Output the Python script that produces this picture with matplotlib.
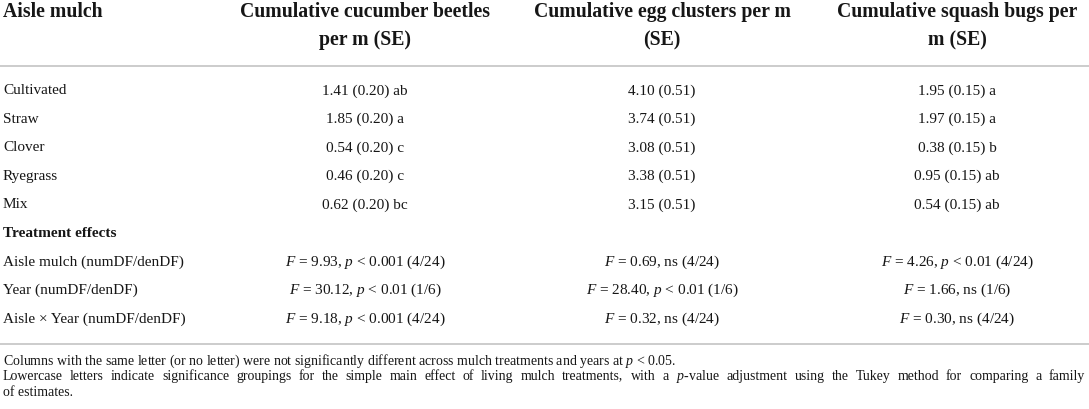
import matplotlib
matplotlib.use("Agg")
import matplotlib.pyplot as plt

# ======================
# DONNÉES
# ======================

mulches = ["Cultivated", "Straw", "Clover", "Ryegrass", "Mix"]

beetles = [1.41, 1.85, 0.54, 0.46, 0.62]
beetles_se = [0.20, 0.20, 0.20, 0.20, 0.20]
beetles_letters = ["ab", "a", "c", "c", "bc"]

eggs = [4.10, 3.74, 3.08, 3.38, 3.15]
eggs_se = [0.51, 0.51, 0.51, 0.51, 0.51]
eggs_letters = ["", "", "", "", ""]

bugs = [1.95, 1.97, 0.38, 0.95, 0.54]
bugs_se = [0.15, 0.15, 0.15, 0.15, 0.15]
bugs_letters = ["a", "a", "b", "ab", "ab"]

effects = ["Aisle mulch (numDF/denDF)", "Year (numDF/denDF)",
           "Aisle \u00d7 Year (numDF/denDF)"]
effect_df = ["4/24", "1/6", "4/24"]
beetles_F = [9.93, 30.12, 9.18]
beetles_p = ["< 0.001", "< 0.01", "< 0.001"]
eggs_F = [0.69, 28.40, 0.32]
eggs_p = ["ns", "< 0.01", "ns"]
bugs_F = [4.26, 1.66, 0.30]
bugs_p = ["< 0.01", "ns", "ns"]

headers = ["Aisle mulch",
           "Cumulative cucumber beetles\nper m (SE)",
           "Cumulative egg clusters per m\n(SE)",
           "Cumulative squash bugs per\nm (SE)"]

note1 = "Columns with the same letter (or no letter) were not significantly different across mulch treatments and years at $p$ < 0.05."
note2 = ("Lowercase letters indicate significance groupings for the simple main effect of living mulch "
         "treatments, with a $p$-value adjustment using the Tukey method for comparing a family")
note3 = "of estimates."

# ======================
# MISE EN PAGE
# ======================

W, H = 1089, 410
col_x = [3, 365, 662, 957]
row0 = 91
row_step = 28.5
note_base = [364.5, 380.5, 396.5]   # lignes de base des notes
note_right = 1085
txt = "#161616"
rule = "#c8c8c8"

plt.rcParams['font.family'] = ['Liberation Serif', 'DejaVu Serif']
plt.rcParams['mathtext.fontset'] = 'custom'
plt.rcParams['mathtext.rm'] = 'Liberation Serif'
plt.rcParams['mathtext.it'] = 'Liberation Serif:italic'

fig = plt.figure(figsize=(W / 100, H / 100), dpi=100)
ax = fig.add_axes([0, 0, 1, 1])
ax.set_xlim(0, W)
ax.set_ylim(H, 0)
ax.axis('off')

body = 11
head = 14.2
small = 10

# en-têtes
ax.text(col_x[0], 12, headers[0], ha='left', va='center', fontsize=head,
        fontweight='bold', color=txt)
for j in range(1, 4):
    ax.text(col_x[j], 26, headers[j], ha='center', va='center', fontsize=head,
            fontweight='bold', color=txt, linespacing=1.55, multialignment='center')

ax.plot([0, W], [67, 67], color=rule, lw=1.3, solid_capstyle='butt')


def cell(v, se, let):
    s = f"{v:.2f} ({se:.2f})"
    if let:
        s += " " + let
    return s


for i, name in enumerate(mulches):
    y = row0 + i * row_step
    ax.text(col_x[0], y, name, ha='left', va='center', fontsize=body, color=txt)
    ax.text(col_x[1], y, cell(beetles[i], beetles_se[i], beetles_letters[i]),
            ha='center', va='center', fontsize=body, color=txt)
    ax.text(col_x[2], y, cell(eggs[i], eggs_se[i], eggs_letters[i]),
            ha='center', va='center', fontsize=body, color=txt)
    ax.text(col_x[3], y, cell(bugs[i], bugs_se[i], bugs_letters[i]),
            ha='center', va='center', fontsize=body, color=txt)

y = row0 + len(mulches) * row_step
ax.text(col_x[0], y, "Treatment effects", ha='left', va='center', fontsize=body,
        fontweight='bold', color=txt)


def stat(f, p, df):
    if p == "ns":
        return f"$F$ = {f:.2f}, ns ({df})"
    return f"$F$ = {f:.2f}, $p$ {p} ({df})"


for i, name in enumerate(effects):
    y = row0 + (len(mulches) + 1 + i) * row_step
    ax.text(col_x[0], y, name, ha='left', va='center', fontsize=body, color=txt)
    ax.text(col_x[1], y, stat(beetles_F[i], beetles_p[i], effect_df[i]),
            ha='center', va='center', fontsize=body, color=txt)
    ax.text(col_x[2], y, stat(eggs_F[i], eggs_p[i], effect_df[i]),
            ha='center', va='center', fontsize=body, color=txt)
    ax.text(col_x[3], y, stat(bugs_F[i], bugs_p[i], effect_df[i]),
            ha='center', va='center', fontsize=body, color=txt)

ax.plot([0, W], [345, 345], color=rule, lw=1.3, solid_capstyle='butt')

# ======================
# NOTES
# ======================

ax.text(col_x[0], note_base[0], note1, ha='left', va='baseline', fontsize=small, color=txt)

# deuxième ligne justifiée : mots répartis jusqu'au bord droit
renderer = fig.canvas.get_renderer()
words = note2.split(" ")
arts = []
total = 0
for w in words:
    t = ax.text(0, note_base[1], w, ha='left', va='baseline', fontsize=small, color=txt)
    total += t.get_window_extent(renderer).width
    arts.append(t)
gap = (note_right - col_x[0] - total) / (len(words) - 1)
x = col_x[0]
for t in arts:
    t.set_x(x)
    x += t.get_window_extent(renderer).width + gap

ax.text(col_x[0], note_base[2], note3, ha='left', va='baseline', fontsize=small, color=txt)

fig.savefig("out.png", dpi=100)
